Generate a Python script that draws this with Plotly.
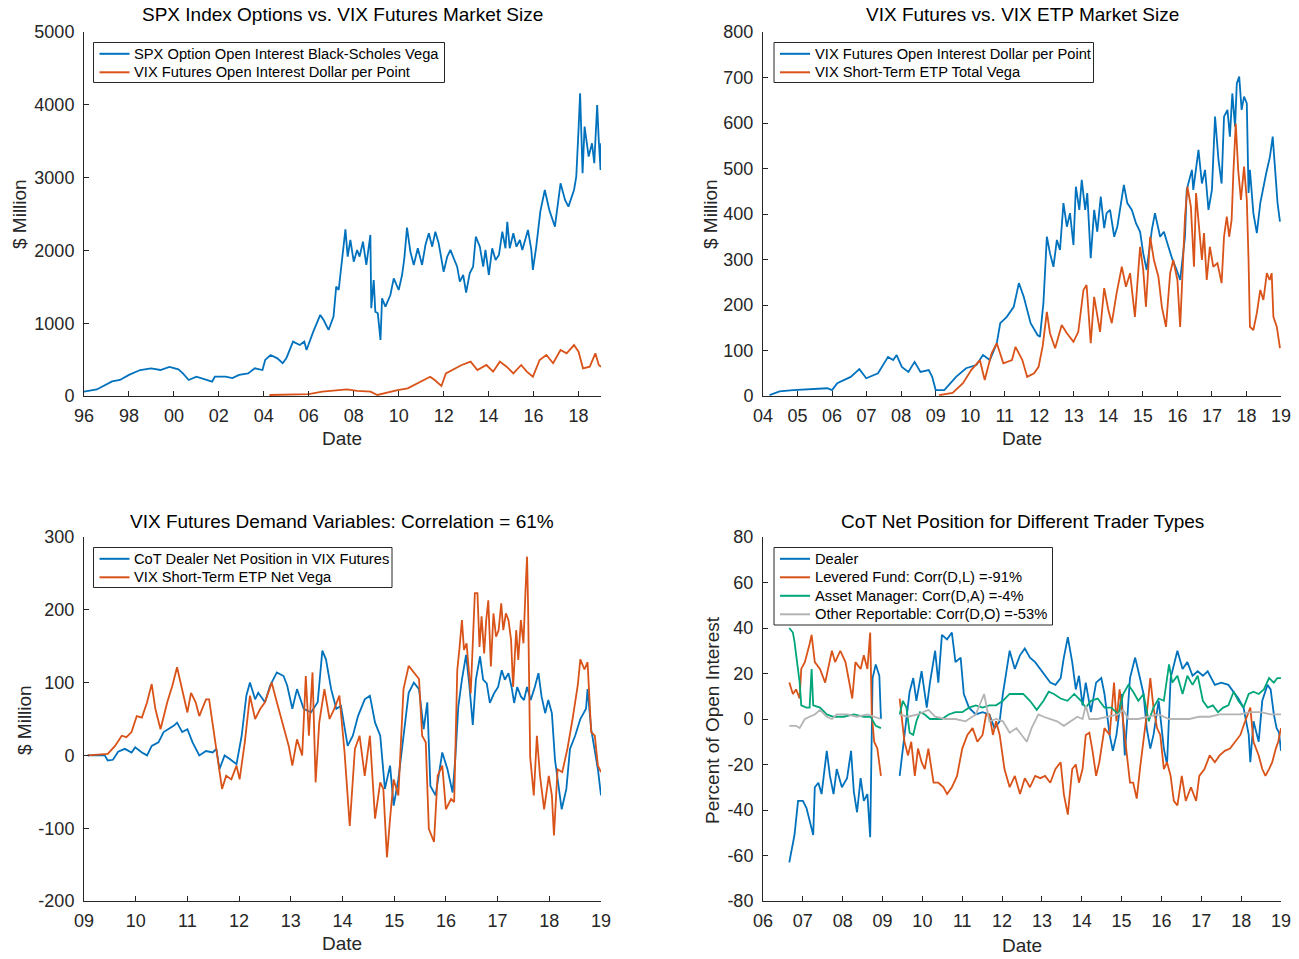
import plotly.graph_objects as go

# ---------------- Panel 1: SPX options vs VIX futures ----------------
spx_t = [1996.0, 1996.57, 1997.25, 1997.6, 1998.0, 1998.5, 1998.98, 1999.4, 1999.8, 2000.2,
         2000.4, 2000.66, 2001.0, 2001.4, 2001.7, 2001.82, 2002.3, 2002.6, 2002.9, 2003.3,
         2003.6, 2003.94, 2004.06, 2004.3, 2004.6, 2004.84, 2005.0, 2005.3, 2005.6, 2005.8,
         2005.9, 2006.2,
         2006.51, 2006.66, 2006.88, 2007.1, 2007.22, 2007.33, 2007.48, 2007.63, 2007.73, 2007.85,
         2008.0, 2008.15, 2008.26, 2008.41, 2008.56, 2008.66, 2008.74, 2008.78, 2008.89, 2008.96,
         2009.07, 2009.19, 2009.26, 2009.41, 2009.63, 2009.78, 2010.0, 2010.15, 2010.25, 2010.37,
         2010.52, 2010.67, 2010.85, 2011.04, 2011.19, 2011.34, 2011.49, 2011.63, 2011.78, 2012.0,
         2012.16, 2012.3, 2012.45, 2012.6, 2012.72, 2012.87, 2013.0, 2013.16, 2013.31, 2013.43,
         2013.61, 2013.76, 2013.86, 2014.01, 2014.16, 2014.31, 2014.46, 2014.61, 2014.75, 2014.83,
         2014.94, 2015.1, 2015.24, 2015.39,
         2015.5, 2015.75, 2015.9, 2015.97, 2016.12, 2016.3, 2016.5, 2016.7, 2016.95, 2017.2,
         2017.4, 2017.55, 2017.8, 2017.9, 2018.0, 2018.07, 2018.18, 2018.27, 2018.45, 2018.6,
         2018.7, 2018.83, 2018.9, 2018.98, 2019.0]
spx_vega = [60, 90, 200, 220, 290, 357, 380, 357, 400, 366,
            311, 220, 265, 220, 197, 265, 265, 245, 290, 311,
            380, 357, 495, 563, 517, 450, 517, 747, 700, 747,
            632, 884,
            1113, 1044, 907, 1090, 1502, 1456, 1868, 2290, 1914, 2143,
            1845, 2006, 1914, 2120, 1800, 2006, 2212, 1205, 1593, 1158,
            1136, 769, 1342, 1227, 1387, 1616, 1456, 1662, 1891, 2312,
            1982, 1800, 2029, 1800, 2074, 2235, 2051, 2257, 2097, 1707,
            1914, 2006, 1891, 1776, 1570, 1662, 1419, 1685, 1776, 2188,
            2051, 1776, 2006, 1662, 2029, 1868, 1937, 2257, 2029, 2394,
            2029, 2235, 2051, 2143,
            2006, 2281, 2006, 1731, 2052, 2533, 2830, 2556, 2327, 2922,
            2693, 2601, 2830, 3014, 3655, 4159, 3060, 3700, 3288, 3472,
            3197, 3998, 3517, 3105, 3472]

vixoi1_t = [2004.25, 2005.4, 2006.0, 2006.6, 2007.7, 2008.15, 2008.75, 2009.05, 2009.35, 2009.95, 2010.4,
            2010.86, 2011.4, 2011.6, 2011.9, 2012.1, 2012.5, 2012.8, 2013.2, 2013.5, 2013.9, 2014.2, 2014.5,
            2014.8, 2015.1, 2015.45, 2015.7, 2015.97, 2016.27, 2016.57, 2016.87, 2017.2, 2017.47, 2017.8,
            2018.0, 2018.2, 2018.5, 2018.75, 2018.9, 2019.0]
vixoi1_val = [14, 20, 25, 60, 90, 70, 60, 14, 37, 82, 105,
              174, 265, 220, 137, 311, 380, 426, 472, 357, 426, 334, 472,
              403, 311, 426, 334, 265, 495, 563, 450, 632, 586, 700,
              609, 380, 403, 586, 426, 403]

# ---------------- Panel 2: VIX futures vs ETP ----------------
vixoi2_t = [2004.19, 2004.48, 2004.87, 2005.37, 2005.86, 2006.0, 2006.15, 2006.54, 2006.79, 2006.99,
            2007.33, 2007.62, 2007.77, 2007.87, 2008.02, 2008.21, 2008.39, 2008.56, 2008.8, 2008.9,
            2009.0, 2009.25, 2009.59, 2009.88, 2010.18, 2010.37, 2010.57, 2010.77, 2010.87, 2011.06,
            2011.26, 2011.41, 2011.55, 2011.75, 2011.95,
            2012.02, 2012.12, 2012.22, 2012.31, 2012.41, 2012.51, 2012.6, 2012.7, 2012.8, 2012.89,
            2012.99, 2013.06, 2013.16, 2013.23, 2013.33, 2013.39, 2013.49, 2013.59, 2013.68, 2013.78,
            2013.88, 2013.95, 2014.05, 2014.17, 2014.26, 2014.39, 2014.45, 2014.55, 2014.68, 2014.8,
            2014.92, 2015.01, 2015.11, 2015.26, 2015.35, 2015.5, 2015.61, 2015.74, 2015.86, 2015.98,
            2016.08,
            2016.22, 2016.27, 2016.42, 2016.46, 2016.61, 2016.71, 2016.8, 2016.9, 2017.0, 2017.09,
            2017.19, 2017.28, 2017.35, 2017.45, 2017.52, 2017.59, 2017.67, 2017.72, 2017.79, 2017.86,
            2017.93, 2018.01, 2018.06, 2018.1, 2018.2, 2018.3, 2018.4, 2018.47, 2018.57, 2018.68,
            2018.76, 2018.83, 2018.9, 2018.97]
vixoi2_val = [2, 10, 13, 15, 17, 13, 28, 42, 59, 39,
              50, 86, 79, 90, 64, 53, 75, 53, 57, 42,
              13, 13, 42, 61, 68, 90, 79, 116, 160, 174,
              196, 248, 218, 160, 134,
              130, 204, 350, 314, 284, 343, 321, 424, 372, 402,
              332, 460, 409, 475, 409, 446, 303, 409, 361, 438,
              369, 402, 409, 350, 372, 431, 464, 424, 409, 380,
              361, 314, 277, 365, 402, 350, 361, 328, 299, 277,
              255,
              350, 453, 497, 453, 541, 467, 497, 409, 453, 614,
              519, 467, 614, 629, 570, 665, 592, 687, 702, 629,
              658, 643, 446, 497, 402, 358, 424, 453, 489, 526,
              570, 497, 424, 383]

etp_t = [2009.1, 2009.49, 2009.79, 2010.03, 2010.28, 2010.42, 2010.62, 2010.77, 2010.96, 2011.21,
         2011.31, 2011.51, 2011.65, 2011.85, 2011.98, 2012.1,
         2012.22, 2012.31, 2012.46, 2012.65, 2012.8, 2012.99, 2013.13, 2013.28, 2013.37, 2013.49,
         2013.59, 2013.76, 2013.88, 2014.0, 2014.1, 2014.24, 2014.39, 2014.51, 2014.63, 2014.77,
         2014.92, 2015.01, 2015.09, 2015.21, 2015.32, 2015.45, 2015.55, 2015.67, 2015.79, 2015.88,
         2016.0,
         2016.08, 2016.22, 2016.29, 2016.39, 2016.48, 2016.54, 2016.61, 2016.71, 2016.77, 2016.85,
         2016.94, 2017.04, 2017.16, 2017.28, 2017.35, 2017.43, 2017.5, 2017.57, 2017.62, 2017.69,
         2017.76, 2017.84, 2017.93, 2018.01, 2018.06, 2018.1, 2018.2, 2018.3, 2018.4, 2018.49,
         2018.59, 2018.67, 2018.73, 2018.78, 2018.88, 2018.97]
etp_vega = [2, 7, 28, 57, 79, 35, 94, 116, 72, 79,
            108, 79, 42, 50, 64, 110,
            185, 138, 105, 156, 138, 119, 141, 233, 244, 116,
            218, 141, 237, 189, 160, 226, 284, 240, 270, 174,
            328, 277, 196, 350, 299, 262, 196, 152, 270, 299,
            255,
            152, 394, 460, 416, 284, 446, 387, 299, 358, 255,
            328, 284, 292, 248, 350, 394, 350, 387, 489, 599,
            497, 431, 504, 431, 299, 152, 145, 182, 233, 211,
            270, 255, 270, 174, 152, 105]

# ---------------- Panel 3: demand variables ----------------
dealer3_t = [2009.07, 2009.4, 2009.46, 2009.56, 2009.66, 2009.79, 2009.92, 2009.99, 2010.12, 2010.22, 2010.31,
             2010.44, 2010.54, 2010.64, 2010.74, 2010.8, 2010.9, 2011.0, 2011.1, 2011.23, 2011.36, 2011.49,
             2011.56, 2011.62, 2011.72, 2011.82, 2011.95, 2012.05, 2012.14, 2012.21, 2012.31, 2012.37, 2012.5,
             2012.6, 2012.73, 2012.86, 2012.93, 2013.03, 2013.12, 2013.25, 2013.39, 2013.52, 2013.61, 2013.68,
             2013.78, 2013.88, 2013.97, 2014.1, 2014.2, 2014.3, 2014.43, 2014.53, 2014.63, 2014.73, 2014.82,
             2014.92, 2014.99, 2015.08, 2015.18, 2015.28, 2015.38, 2015.48, 2015.57, 2015.64, 2015.7, 2015.8,
             2015.93, 2016.03, 2016.13,
             2016.18, 2016.24, 2016.31, 2016.39, 2016.45, 2016.52, 2016.58, 2016.66, 2016.72, 2016.79,
             2016.85, 2016.93, 2017.01, 2017.08, 2017.14, 2017.21, 2017.27, 2017.32, 2017.38, 2017.45,
             2017.51, 2017.57, 2017.64, 2017.72, 2017.79, 2017.85, 2017.92, 2017.98, 2018.05, 2018.11,
             2018.24, 2018.33, 2018.4, 2018.5, 2018.6, 2018.71, 2018.74, 2018.81, 2018.88, 2018.94,
             2019.0]
dealer3_val = [0, 0, -7, -6, 5, 9, 4, 11, 4, 0, 13,
               18, 32, 36, 41, 45, 32, 36, 18, 0, 6, 4,
               9, -19, 0, -5, -12, 27, 82, 100, 77, 86, 73,
               96, 114, 109, 96, 64, 91, 64, 59, 73, 144, 132,
               91, 64, 68, 13, 27, 54, 77, 82, 45, 27, -46,
               -14, -69, -33, 27, 86, 100, 91, 36, 73, -42, -55,
               4, -19, -51,
               -6, 67, 104, 138, 99, 42, 104, 136, 104, 99,
               72, 85, 94, 117, 104, 113, 94, 72, 94, 81,
               76, 94, 76, 94, 113, 81, 58, 76, 58, -6,
               -74, -46, 9, 27, 50, 64, 91, 36, 4, -19,
               -55]

etpnet_t = [2009.07, 2009.46, 2009.6, 2009.73, 2009.82, 2009.92, 2010.02, 2010.12, 2010.22, 2010.31, 2010.38,
            2010.48, 2010.61, 2010.71, 2010.8, 2010.9, 2011.0, 2011.07, 2011.16, 2011.23, 2011.36, 2011.42,
            2011.52, 2011.59, 2011.67, 2011.75, 2011.85, 2011.95, 2012.01, 2012.11, 2012.21, 2012.31, 2012.41,
            2012.5, 2012.63, 2012.73, 2012.86, 2012.96, 2013.03, 2013.12, 2013.22, 2013.29, 2013.35, 2013.42,
            2013.48, 2013.55, 2013.65, 2013.75, 2013.84, 2013.94, 2014.04, 2014.14, 2014.24, 2014.33, 2014.43,
            2014.53, 2014.63, 2014.73, 2014.79, 2014.86, 2014.92, 2014.99, 2015.08, 2015.18, 2015.28, 2015.38,
            2015.48, 2015.54, 2015.61, 2015.67, 2015.77, 2015.84, 2015.93, 2016.0, 2016.1, 2016.16,
            2016.18, 2016.22, 2016.26, 2016.31, 2016.35, 2016.4, 2016.48, 2016.53, 2016.56, 2016.61,
            2016.65, 2016.69, 2016.74, 2016.78, 2016.82, 2016.87, 2016.92, 2016.97, 2017.02, 2017.07,
            2017.11, 2017.16, 2017.21, 2017.26, 2017.3, 2017.36, 2017.4, 2017.45, 2017.5, 2017.54,
            2017.57, 2017.59, 2017.63,
            2017.7, 2017.76, 2017.82, 2017.9, 2017.99, 2018.05, 2018.09, 2018.16, 2018.25, 2018.35,
            2018.45, 2018.55, 2018.6, 2018.68, 2018.74, 2018.81, 2018.88, 2018.94, 2019.0]
etpnet_val = [0, 2, 13, 27, 25, 32, 54, 52, 73, 98, 64,
              36, 73, 96, 121, 91, 59, 86, 73, 54, 77, 77,
              27, -10, -46, -28, -33, -14, -33, 18, 82, 50, 64,
              73, 100, 73, 41, 13, -14, 22, 0, 109, 27, 114,
              -37, 45, 91, 50, 64, 82, 4, -97, 9, 27, -28,
              27, -87, -37, -46, -140, -87, -33, -55, 91, 123, 114,
              105, 27, 18, -101, -119, -28, -14, -74, -60, -64,
              -6, 117, 145, 186, 145, 154, 85, 172, 223, 223,
              149, 191, 140, 186, 213, 122, 195, 163, 172, 209,
              172, 195, 186, 159, 94, 172, 131, 186, 154, 227,
              273, 204, -2,
              -55, 27, -28, -74, -28, -55, -110, -19, -23, 9,
              50, 96, 132, 118, 128, 32, 27, -14, -23]

# ---------------- Panel 4: CoT net positions (None = gap) ----------------
cot_dealer_t = [2006.66, 2006.7, 2006.79, 2006.88, 2007.0, 2007.09, 2007.17, 2007.26, 2007.3, 2007.39, 2007.47,
                2007.6, 2007.68, 2007.77, 2007.85, 2007.98, 2008.11, 2008.21, 2008.28, 2008.36, 2008.45, 2008.53,
                2008.62, 2008.69, 2008.75, 2008.83, 2008.92, 2008.96, 2009.2,
                2009.43, 2009.51, 2009.6, 2009.68, 2009.77, 2009.85, 2009.98, 2010.11, 2010.19, 2010.32, 2010.4,
                2010.49, 2010.62, 2010.74, 2010.83, 2010.96, 2011.04, 2011.17, 2011.34, 2011.51, 2011.68, 2011.81,
                2011.94, 2012.02, 2012.11, 2012.19, 2012.32, 2012.45, 2012.57, 2012.7, 2012.83, 2012.96, 2013.08,
                2013.21, 2013.34, 2013.47, 2013.55, 2013.65, 2013.76, 2013.85, 2013.93, 2014.02, 2014.1, 2014.23,
                2014.36, 2014.49, 2014.57, 2014.7, 2014.78, 2014.87, 2015.0, 2015.08, 2015.21, 2015.34, 2015.46,
                2015.55, 2015.63, 2015.72, 2015.8, 2015.93, 2016.06, 2016.14, 2016.23, 2016.31, 2016.4, 2016.53,
                2016.65, 2016.78, 2016.91, 2017.04, 2017.16, 2017.34, 2017.5, 2017.68, 2017.81, 2017.93, 2018.06,
                2018.19, 2018.23, 2018.31, 2018.44, 2018.53, 2018.66, 2018.74, 2018.82, 2018.89, 2018.95, 2019.0]
cot_dealer = [-63, -59, -51, -36, -36, -39, -45, -51, -30, -28, -33,
              -14, -25, -33, -22, -30, -26, -14, -32, -41, -26, -36,
              -33, -52, 18, 24, 19, 0, None,
              -25, -13, -1, 12, 18, 8, 21, 5, 16, 30, 16,
              37, 35, 38, 25, 27, 11, 5, 2, 3, 2, -4,
              -1, 11, 21, 30, 22, 28, 31, 27, 25, 22, 19,
              16, 15, 18, 27, 36, 25, 13, 19, 6, 16, 3,
              16, 18, 11, -7, -14, -7, 11, -16, 18, 27, 18,
              11, -4, -13, -7, 8, -13, -20, 18, 24, 30, 22,
              25, 19, 21, 19, 21, 15, 16, 15, 12, 9, 5,
              -7, -19, -1, -10, 8, 15, 13, 2, -4, -6, -14]

cot_lev_t = [2006.66, 2006.75, 2006.83, 2006.92, 2006.96, 2007.05, 2007.17, 2007.22, 2007.3, 2007.43, 2007.56,
             2007.64, 2007.73, 2007.81, 2007.94, 2008.07, 2008.15, 2008.24, 2008.32, 2008.45, 2008.53, 2008.62,
             2008.69, 2008.73, 2008.79, 2008.87, 2008.96, 2009.2,
             2009.43, 2009.47, 2009.55, 2009.64, 2009.72, 2009.81, 2009.89, 2009.98, 2010.06, 2010.15, 2010.28,
             2010.4, 2010.53, 2010.62, 2010.74, 2010.87, 2011.0, 2011.13, 2011.26, 2011.38, 2011.51, 2011.6,
             2011.68, 2011.77, 2011.85, 2011.94, 2012.06, 2012.19, 2012.32, 2012.45, 2012.57, 2012.7, 2012.83,
             2012.96, 2013.08, 2013.21, 2013.34, 2013.47, 2013.55, 2013.65, 2013.76, 2013.85, 2013.93, 2014.02,
             2014.1, 2014.19, 2014.27, 2014.36, 2014.44, 2014.57, 2014.7, 2014.81, 2014.87, 2014.95, 2015.04,
             2015.12, 2015.21, 2015.29, 2015.38, 2015.46, 2015.55, 2015.63, 2015.72, 2015.8, 2015.89, 2015.97,
             2016.06, 2016.14, 2016.23, 2016.31, 2016.4, 2016.51, 2016.61, 2016.74, 2016.87, 2016.95, 2017.08,
             2017.21, 2017.34, 2017.46, 2017.59, 2017.72, 2017.85, 2017.98, 2018.1, 2018.23, 2018.31, 2018.44,
             2018.53, 2018.61, 2018.7, 2018.78, 2018.87, 2018.93, 2019.0]
cot_lev = [16, 11, 13, 9, 22, 25, 33, 37, 25, 22, 16,
           22, 30, 25, 30, 25, 18, 9, 25, 22, 28, 22,
           38, 2, -10, -13, -25, None,
           9, 2, -10, -16, -10, -25, -13, -19, -22, -13, -28,
           -28, -30, -33, -30, -25, -13, -7, -4, -10, -7, 2,
           2, -7, -1, -7, -22, -30, -25, -33, -26, -30, -25,
           -26, -25, -28, -22, -19, -33, -42, -22, -20, -28, -22,
           -7, -6, -14, -25, -19, -4, -7, 16, -1, 13, -1,
           -13, -28, -28, -35, -22, -10, 2, 18, 5, -4, -7,
           -22, -19, -25, -36, -38, -25, -36, -30, -36, -25, -22,
           -16, -19, -16, -14, -13, -10, -7, -1, 5, -10, -16,
           -22, -25, -22, -19, -13, -10, -4]

cot_am_t = [2006.66, 2006.75, 2006.79, 2006.88, 2006.92, 2006.96, 2007.09, 2007.17, 2007.22, 2007.26, 2007.43,
            2007.6, 2007.77, 2008.02, 2008.28, 2008.53, 2008.7, 2008.83, 2008.96, 2009.2,
            2009.43, 2009.51, 2009.6, 2009.68, 2009.77, 2009.85, 2009.94, 2010.06, 2010.19, 2010.32, 2010.49,
            2010.66, 2010.83, 2011.0, 2011.17, 2011.34, 2011.51, 2011.68, 2011.85, 2012.02, 2012.19, 2012.36,
            2012.53, 2012.7, 2012.87, 2013.04, 2013.17, 2013.3, 2013.47, 2013.64, 2013.81, 2013.98, 2014.1,
            2014.23, 2014.4, 2014.57, 2014.74, 2014.92, 2015.04, 2015.17, 2015.29, 2015.42, 2015.55, 2015.68,
            2015.8, 2015.93, 2016.06, 2016.19, 2016.27, 2016.4, 2016.53, 2016.65, 2016.78, 2016.91, 2017.04,
            2017.16, 2017.29, 2017.42, 2017.55, 2017.68, 2017.81, 2017.93, 2018.06, 2018.19, 2018.31, 2018.44,
            2018.57, 2018.7, 2018.82, 2018.91, 2019.0]
cot_am = [40, 38, 34, 22, 16, 6, 5, 5, 22, 6, 5,
          2, 1, 1, 2, 1, 1, -3, -4, None,
          2, 8, 5, -6, -7, -1, 3, 2, 0, 0, 0,
          2, 3, 3, 5, 6, 5, 6, 6, 8, 11, 11,
          11, 8, 4, 8, 12, 11, 9, 8, 11, 8, 5,
          8, 9, 5, 5, 2, 11, 15, 12, 8, 11, -1,
          5, 9, 8, 24, 16, 19, 11, 19, 15, 19, 8,
          5, 6, 3, 5, 6, 12, 8, 5, 11, 12, 11,
          13, 18, 16, 18, 18]

cot_oth_t = [2006.66, 2006.83, 2006.92, 2007.05, 2007.17, 2007.3, 2007.43, 2007.6, 2007.73, 2007.85, 2008.11,
             2008.36, 2008.62, 2008.79, 2008.96, 2009.2,
             2009.43, 2009.64, 2009.89, 2010.15, 2010.32, 2010.57, 2010.83, 2011.08, 2011.34, 2011.55, 2011.68,
             2011.85, 2012.02, 2012.19, 2012.36, 2012.53, 2012.62, 2012.74, 2012.91, 2013.04, 2013.21, 2013.38,
             2013.55, 2013.72, 2013.89, 2014.02, 2014.1, 2014.19, 2014.4, 2014.66, 2014.91, 2015.04, 2015.17,
             2015.42, 2015.68, 2015.93, 2016.19, 2016.45, 2016.7, 2016.95, 2017.21, 2017.46, 2017.72, 2017.98,
             2018.23, 2018.49, 2018.74, 2019.0]
cot_oth = [-3, -3, -4, 0, 1, 2, 4, 1, 0, 2, 2,
           1, 2, 1, 0, None,
           2, 1, 2, 4, 1, 0, 0, -1, 2, 11, -1,
           0, -1, -6, -4, -8, -10, -4, 2, 1, 0, -1,
           -3, -1, 1, 0, 6, 0, 0, 1, 2, 4, 0,
           0, 1, 2, 0, 0, 0, 1, 1, 2, 2, 2,
           3, 3, 2, 2]

for _a, _b in [(spx_t, spx_vega), (vixoi1_t, vixoi1_val), (vixoi2_t, vixoi2_val), (etp_t, etp_vega),
               (dealer3_t, dealer3_val), (etpnet_t, etpnet_val), (cot_dealer_t, cot_dealer),
               (cot_lev_t, cot_lev), (cot_am_t, cot_am), (cot_oth_t, cot_oth)]:
    assert len(_a) == len(_b), (len(_a), len(_b))

# ---------------- Labels ----------------
titles = ["SPX Index Options vs. VIX Futures Market Size",
          "VIX Futures vs. VIX ETP Market Size",
          "VIX Futures Demand Variables: Correlation = 61%",
          "CoT Net Position for Different Trader Types"]
names1 = ["SPX Option Open Interest Black-Scholes Vega", "VIX Futures Open Interest Dollar per Point"]
names2 = ["VIX Futures Open Interest Dollar per Point", "VIX Short-Term ETP Total Vega"]
names3 = ["CoT Dealer Net Position in VIX Futures", "VIX Short-Term ETP Net Vega"]
names4 = ["Dealer", "Levered Fund: Corr(D,L) =-91%", "Asset Manager: Corr(D,A) =-4%",
          "Other Reportable: Corr(D,O) =-53%"]
x1_ticks = list(range(1996, 2019, 2))
x2_ticks = list(range(2004, 2020))
x3_ticks = list(range(2009, 2020))
x4_ticks = list(range(2006, 2020))
y1_ticks = [0, 1000, 2000, 3000, 4000, 5000]
y2_ticks = [0, 100, 200, 300, 400, 500, 600, 700, 800]
y3_ticks = [-200, -100, 0, 100, 200, 300]
y4_ticks = [-80, -60, -40, -20, 0, 20, 40, 60, 80]

BLUE = "#0072BD"
ORANGE = "#D95319"
GREEN = "#00A67A"
GREY = "#B4B4B4"
AX = "#262626"
FONT = "Liberation Sans, Arial, Helvetica, sans-serif"
W, H = 1299, 959


def px_x(p):
    return p / W


def px_y(p):
    return 1 - p / H


fig = go.Figure()

def add(x, y, name, color, xa, ya):
    fig.add_trace(go.Scatter(x=x, y=y, name=name, mode="lines", xaxis=xa, yaxis=ya,
                             line=dict(color=color, width=1.8), showlegend=False,
                             connectgaps=False, hoverinfo="skip"))

add(spx_t, spx_vega, names1[0], BLUE, "x", "y")
add(vixoi1_t, vixoi1_val, names1[1], ORANGE, "x", "y")
add(vixoi2_t, vixoi2_val, names2[0], BLUE, "x2", "y2")
add(etp_t, etp_vega, names2[1], ORANGE, "x2", "y2")
add(dealer3_t, dealer3_val, names3[0], BLUE, "x3", "y3")
add(etpnet_t, etpnet_val, names3[1], ORANGE, "x3", "y3")
add(cot_dealer_t, cot_dealer, names4[0], BLUE, "x4", "y4")
add(cot_lev_t, cot_lev, names4[1], ORANGE, "x4", "y4")
add(cot_am_t, cot_am, names4[2], GREEN, "x4", "y4")
add(cot_oth_t, cot_oth, names4[3], GREY, "x4", "y4")

left_dom = [px_x(84), px_x(601)]
right_dom = [px_x(763), px_x(1281)]
top_dom = [px_y(396), px_y(32)]
bot_dom = [px_y(901), px_y(537)]


def xax(dom, rng, ticks, anchor):
    return dict(domain=dom, range=rng, tickvals=ticks, ticktext=["%02d" % (t % 100) for t in ticks],
                showline=True, linecolor=AX, linewidth=1, ticks="inside", ticklen=5, tickcolor=AX,
                showgrid=False, zeroline=False, anchor=anchor, automargin=False, ticklabelstandoff=3,
                tickfont=dict(size=18, color=AX, family=FONT))


def yax(dom, rng, ticks, anchor):
    return dict(domain=dom, range=rng, tickvals=ticks, ticktext=[str(t) for t in ticks],
                showline=True, linecolor=AX, linewidth=1, ticks="inside", ticklen=5, tickcolor=AX,
                showgrid=False, zeroline=False, anchor=anchor, automargin=False, ticklabelstandoff=5,
                tickfont=dict(size=18, color=AX, family=FONT))


annotations = []
shapes = []
for txt, cx, cy in [(titles[0], 342, 15), (titles[1], 1022, 15), (titles[2], 342, 521), (titles[3], 1022, 521)]:
    annotations.append(dict(text=txt, x=px_x(cx), y=px_y(cy), xref="paper", yref="paper",
                            xanchor="center", yanchor="middle", showarrow=False,
                            font=dict(size=19, color="#000000", family=FONT)))
for cx, cy in [(342, 438), (1022, 438), (342, 943), (1022, 945)]:
    annotations.append(dict(text="Date", x=px_x(cx), y=px_y(cy), xref="paper", yref="paper",
                            xanchor="center", yanchor="middle", showarrow=False,
                            font=dict(size=19, color=AX, family=FONT)))
for txt, cx, cy in [("$ Million", 20, 214), ("$ Million", 711, 214), ("$ Million", 24, 720),
                    ("Percent of Open Interest", 712, 720)]:
    annotations.append(dict(text=txt, x=px_x(cx), y=px_y(cy), xref="paper", yref="paper",
                            xanchor="center", yanchor="middle", showarrow=False, textangle=-90,
                            font=dict(size=19, color=AX, family=FONT)))


def legend_box(x0, y0, x1, y1, names, colors):
    shapes.append(dict(type="rect", xref="paper", yref="paper", x0=px_x(x0), x1=px_x(x1),
                       y0=px_y(y0), y1=px_y(y1), line=dict(color=AX, width=1),
                       fillcolor="white", layer="above"))
    for i, (nm, col) in enumerate(zip(names, colors)):
        ry = y0 + 11.3 + 18.5 * i
        shapes.append(dict(type="line", xref="paper", yref="paper", x0=px_x(x0 + 6), x1=px_x(x0 + 36),
                           y0=px_y(ry), y1=px_y(ry), line=dict(color=col, width=2), layer="above"))
        annotations.append(dict(text=nm, x=px_x(x0 + 38.5), y=px_y(ry), xref="paper", yref="paper",
                                xanchor="left", yanchor="middle", showarrow=False,
                                font=dict(size=14.7, color="#000000", family=FONT)))


legend_box(93.5, 42.5, 444.5, 82.5, names1, [BLUE, ORANGE])
legend_box(774, 42.5, 1093.5, 82.5, names2, [BLUE, ORANGE])
legend_box(93.5, 547.5, 392, 587.5, names3, [BLUE, ORANGE])
legend_box(774, 547.5, 1052.5, 625, names4, [BLUE, ORANGE, GREEN, GREY])

fig.update_layout(
    template="none",
    width=W, height=H, autosize=False,
    margin=dict(l=0, r=0, t=0, b=0, pad=0, autoexpand=False),
    paper_bgcolor="white", plot_bgcolor="white",
    font=dict(family=FONT, color=AX),
    showlegend=False,
    xaxis=xax(left_dom, [1996, 2019], x1_ticks, "y"),
    yaxis=yax(top_dom, [0, 5000], y1_ticks, "x"),
    xaxis2=xax(right_dom, [2004, 2019], x2_ticks, "y2"),
    yaxis2=yax(top_dom, [0, 800], y2_ticks, "x2"),
    xaxis3=xax(left_dom, [2009, 2019], x3_ticks, "y3"),
    yaxis3=yax(bot_dom, [-200, 300], y3_ticks, "x3"),
    xaxis4=xax(right_dom, [2006, 2019], x4_ticks, "y4"),
    yaxis4=yax(bot_dom, [-80, 80], y4_ticks, "x4"),
    annotations=annotations,
    shapes=shapes,
)

fig.write_html("out.html", config={"displayModeBar": False},
               post_script="document.body.style.margin='0';document.body.style.overflow='hidden';")
